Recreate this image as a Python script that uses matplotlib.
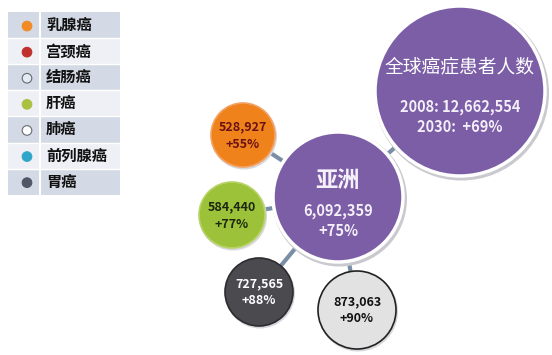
import matplotlib
matplotlib.use('Agg')
import matplotlib.pyplot as plt
from matplotlib.patches import Circle, Rectangle

plt.rcParams['font.family'] = ['Noto Sans CJK SC', 'DejaVu Sans']

# legend data
legend_names = ['乳腺癌', '宫颈癌', '结肠癌', '肝癌', '肺癌', '前列腺癌', '胃癌']
legend_colors = ['#f28a26', '#c0302c', '#e4ebf3', '#a9c13e', '#ffffff', '#2fa6c9', '#4f5666']

# bubble data
total_label = '全球癌症患者人数'
total_2008 = '12,662,554'
total_2030 = '+69%'
asia_label = '亚洲'
asia_value = '6,092,359'
asia_growth = '+75%'
small_values = ['528,927', '584,440', '727,565', '873,063']
small_growth = ['+55%', '+77%', '+88%', '+90%']
small_colors = ['#f0821c', '#9cc23a', '#4a4a4f', '#e2e2e2']
small_text = ['#6a1212', '#1c2810', '#ffffff', '#111111']
small_edges = ['#f4a060', '#b8d468', '#2c2c30', '#222222']

fig = plt.figure(figsize=(5.52, 3.55), dpi=100)
ax = fig.add_axes([0, 0, 1, 1])
ax.set_xlim(0, 552)
ax.set_ylim(355, 0)
ax.set_aspect('equal')
ax.axis('off')

# legend table
row_h = 26.1
top = 12
for i, name in enumerate(legend_names):
    y = top + i * row_h
    bg = '#d4dae5' if i % 2 == 0 else '#eef0f5'
    ax.add_patch(Rectangle((8, y), 112, row_h, facecolor=bg, edgecolor='none'))
    ec = '#666a70' if legend_colors[i] in ('#ffffff', '#e4ebf3') else legend_colors[i]
    ax.add_patch(Circle((27, y + row_h / 2 + 1), 4.8, facecolor=legend_colors[i],
                        edgecolor=ec, lw=0.8))
    ax.text(46, y + row_h / 2, name, fontsize=11, fontweight='bold',
            va='center', ha='left', color='#111111')
ax.plot([40, 40], [top, top + 7 * row_h], color='white', lw=1.5)
for i in range(1, 7):
    ax.plot([8, 120], [top + i * row_h] * 2, color='white', lw=1)

# bubble positions
asia_xy = (338, 197)
asia_r = 65
world_xy = (460, 91)
world_r = 85
small_xy = [(243, 135), (232, 215), (259, 292), (357, 310)]
small_r = [32, 33, 34, 39]

# connector lines
for xy in small_xy + [world_xy]:
    ax.plot([asia_xy[0], xy[0]], [asia_xy[1], xy[1]], color='#7a8ea6', lw=3,
            zorder=1, solid_capstyle='butt')

# big bubbles with white rim and soft shadow
for xy, r in [(world_xy, world_r), (asia_xy, asia_r)]:
    ax.add_patch(Circle((xy[0] + 1.5, xy[1] + 2), r + 2.5, facecolor='#c9c9cf',
                        edgecolor='none', zorder=2))
    ax.add_patch(Circle(xy, r, facecolor='#7b5ea6', edgecolor='white', lw=2.5, zorder=3))

ax.text(world_xy[0], 67, total_label, fontsize=13.5, color='white',
        ha='center', va='center', zorder=5)
ax.text(world_xy[0], 107, '2008: ' + total_2008, fontsize=10.5, fontweight='bold',
        color='#f4eef8', ha='center', va='center', zorder=5)
ax.text(world_xy[0], 127, '2030:  ' + total_2030, fontsize=10.5, fontweight='bold',
        color='#f4eef8', ha='center', va='center', zorder=5)

ax.text(asia_xy[0], 180, asia_label, fontsize=16, fontweight='bold', color='#f6f0fa',
        ha='center', va='center', zorder=5)
ax.text(asia_xy[0], 211, asia_value, fontsize=10.5, fontweight='bold', color='#f4eef8',
        ha='center', va='center', zorder=5)
ax.text(asia_xy[0], 231, asia_growth, fontsize=10.5, fontweight='bold', color='#f4eef8',
        ha='center', va='center', zorder=5)

# small bubbles
for i in range(len(small_values)):
    x, y = small_xy[i]
    ax.add_patch(Circle((x + 1, y + 1.5), small_r[i] + 1, facecolor='#d8d8dc',
                        edgecolor='none', zorder=2))
    ax.add_patch(Circle((x, y), small_r[i], facecolor=small_colors[i],
                        edgecolor=small_edges[i], lw=1.2, zorder=3))
    ax.text(x, y - 8, small_values[i], fontsize=9, fontweight='bold',
            color=small_text[i], ha='center', va='center', zorder=5)
    ax.text(x, y + 9, small_growth[i], fontsize=9, fontweight='bold',
            color=small_text[i], ha='center', va='center', zorder=5)

fig.savefig('out.png', dpi=100)
